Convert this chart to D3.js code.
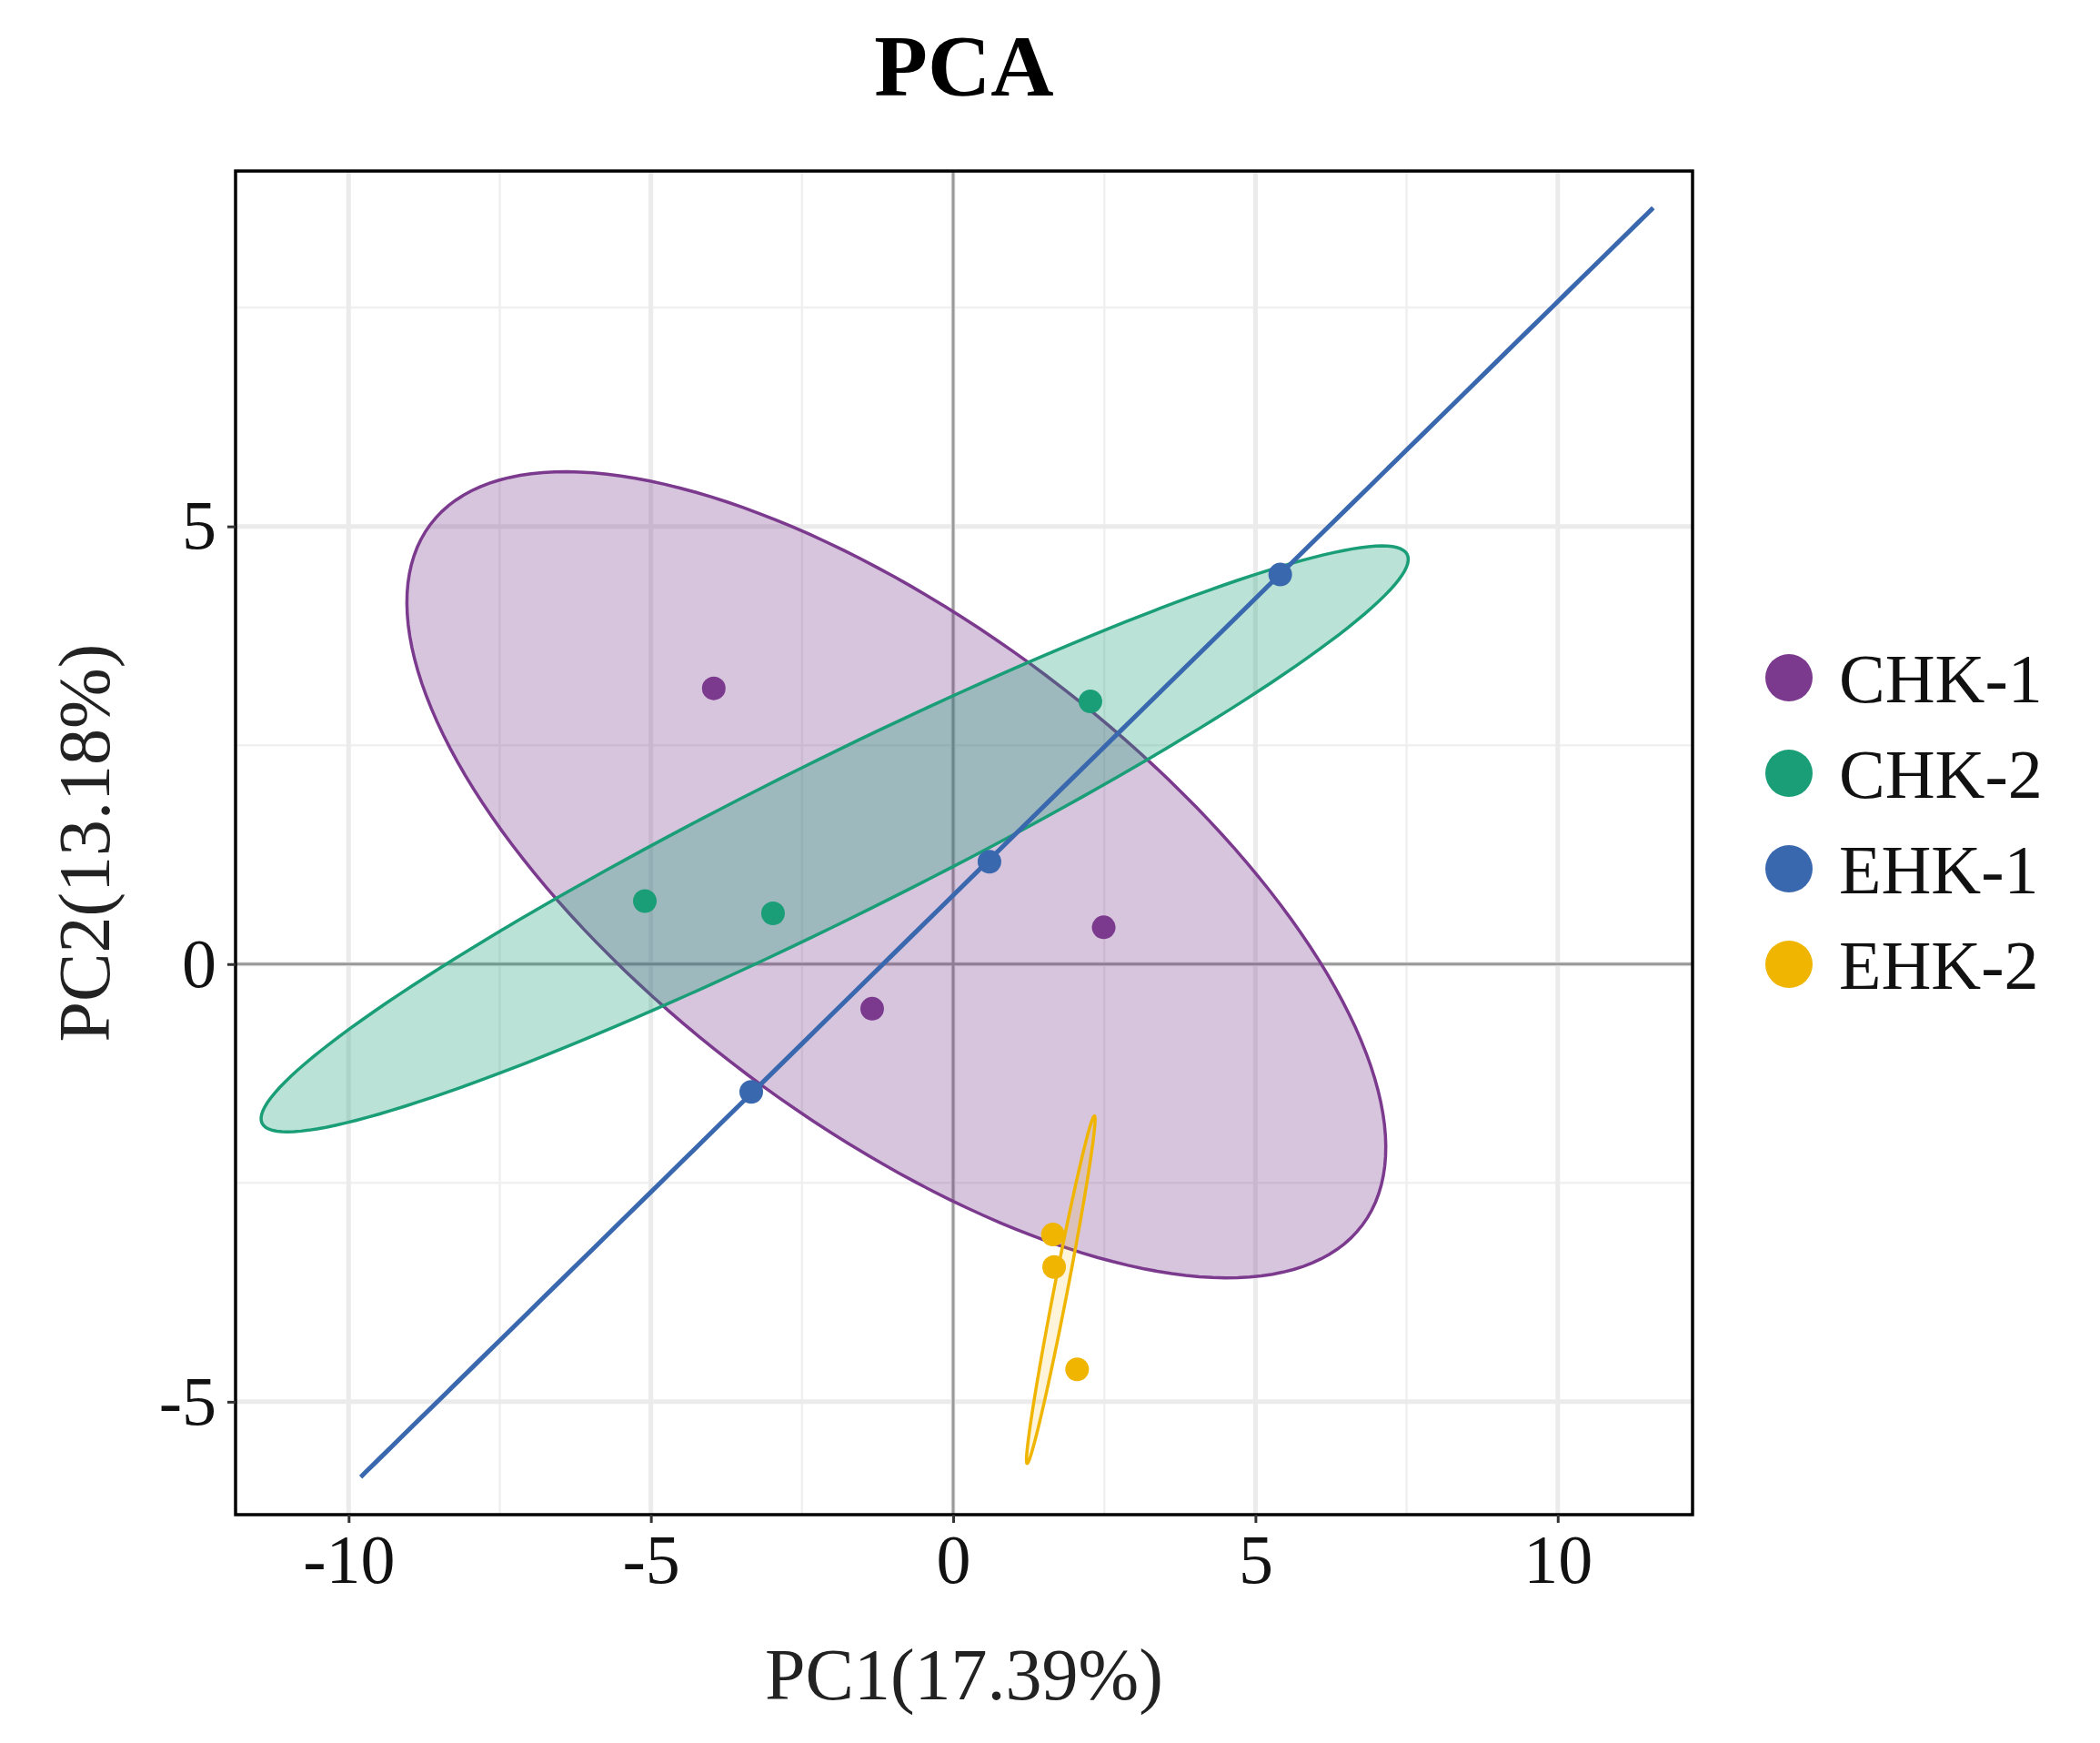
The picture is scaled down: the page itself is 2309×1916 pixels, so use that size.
<!DOCTYPE html>
<html><head><meta charset="utf-8">
<script src="https://cdn.jsdelivr.net/npm/d3@7"></script>
<style>body{margin:0;background:#fff}</style>
</head><body><div id="chart"></div>
<script>
// groups and colours
var groups = ["CHK-1", "CHK-2", "EHK-1", "EHK-2"];
var colors = ["#7B3A8E", "#1A9E77", "#3A68AE", "#EFB500"];

// sample scores (PC1, PC2) per group
var pc1 = [[-3.96, 2.49, -1.34], [-5.10, -2.98, 2.27], [-3.34, 0.60, 5.41], [1.65, 1.67, 2.05]];
var pc2 = [[3.15, 0.42, -0.51], [0.72, 0.58, 3.00], [-1.46, 1.17, 4.45], [-3.09, -3.46, -4.63]];

// ellipse: centre, half axis u, half axis v (data units)
var ellCenter = [[-0.94, 1.02], [-1.96, 1.43], [0.89, 1.39], [1.78, -3.72]];
var ellU = [[-7.71, 4.0], [9.47, 3.25], [10.69, 7.25], [0.557, 1.985]];
var ellV = [[2.47, 2.28], [0.58, -0.80], [0, 0], [0.109, -0.015]];
var ellFill = [0.3, 0.3, 0.3, 0.15];

var xTicks = [-10, -5, 0, 5, 10];
var yTicks = [-5, 0, 5];
var xMinor = [-7.5, -2.5, 2.5, 7.5];
var yMinor = [-2.5, 2.5, 7.5];

var W = 2309, H = 1916;
var pLeft = 259, pRight = 1861, pTop = 188, pBottom = 1665;

var svg = d3.select("#chart").append("svg").attr("width", W).attr("height", H);
var font = "'Liberation Serif', 'DejaVu Serif', serif";

var x = d3.scaleLinear().domain([-11.87, 12.23]).range([pLeft, pRight]);
var y = d3.scaleLinear().domain([-6.29, 9.06]).range([pBottom, pTop]);

svg.append("rect").attr("x", pLeft).attr("y", pTop).attr("width", pRight - pLeft).attr("height", pBottom - pTop).attr("fill", "#fff");

// grid
var g = svg.append("g");
g.selectAll(".xm").data(xMinor).enter().append("line")
  .attr("x1", x).attr("x2", x).attr("y1", pTop).attr("y2", pBottom).attr("stroke", "#f0f0f0").attr("stroke-width", 2.5);
g.selectAll(".ym").data(yMinor).enter().append("line")
  .attr("y1", y).attr("y2", y).attr("x1", pLeft).attr("x2", pRight).attr("stroke", "#f0f0f0").attr("stroke-width", 2.5);
g.selectAll(".xM").data(xTicks).enter().append("line")
  .attr("x1", x).attr("x2", x).attr("y1", pTop).attr("y2", pBottom).attr("stroke", "#ebebeb").attr("stroke-width", 5);
g.selectAll(".yM").data(yTicks).enter().append("line")
  .attr("y1", y).attr("y2", y).attr("x1", pLeft).attr("x2", pRight).attr("stroke", "#ebebeb").attr("stroke-width", 5);

// zero lines
svg.append("line").attr("x1", x(0)).attr("x2", x(0)).attr("y1", pTop).attr("y2", pBottom).attr("stroke", "#999").attr("stroke-width", 3);
svg.append("line").attr("y1", y(0)).attr("y2", y(0)).attr("x1", pLeft).attr("x2", pRight).attr("stroke", "#999").attr("stroke-width", 3);

// ellipses
var line = d3.line().x(function(d){ return x(d[0]); }).y(function(d){ return y(d[1]); });
groups.forEach(function(name, i) {
  var pts = d3.range(0, 361, 2).map(function(a) {
    var t = a * Math.PI / 180;
    return [ellCenter[i][0] + ellU[i][0] * Math.cos(t) + ellV[i][0] * Math.sin(t),
            ellCenter[i][1] + ellU[i][1] * Math.cos(t) + ellV[i][1] * Math.sin(t)];
  });
  svg.append("path").attr("d", line(pts) + "Z")
    .attr("fill", colors[i]).attr("fill-opacity", ellFill[i])
    .attr("stroke", colors[i]).attr("stroke-width", i == 2 ? 5 : 3.5);
});

// points
groups.forEach(function(name, i) {
  svg.selectAll(".p" + i).data(pc1[i]).enter().append("circle")
    .attr("cx", function(d){ return x(d); })
    .attr("cy", function(d, j){ return y(pc2[i][j]); })
    .attr("r", 13).attr("fill", colors[i]);
});

// border
svg.append("rect").attr("x", pLeft).attr("y", pTop).attr("width", pRight - pLeft).attr("height", pBottom - pTop)
  .attr("fill", "none").attr("stroke", "#000").attr("stroke-width", 3.5);

// axes
var fmt = function(d){ return String(d); };
var xa = svg.append("g").attr("transform", "translate(0," + pBottom + ")")
  .call(d3.axisBottom(x).tickValues(xTicks).tickFormat(fmt).tickSize(9).tickPadding(12));
var ya = svg.append("g").attr("transform", "translate(" + pLeft + ",0)")
  .call(d3.axisLeft(y).tickValues(yTicks).tickFormat(fmt).tickSize(9).tickPadding(12));
[xa, ya].forEach(function(a) {
  a.select(".domain").remove();
  a.selectAll(".tick line").attr("stroke", "#333").attr("stroke-width", 3);
  a.selectAll("text").attr("font-family", font).attr("font-size", 76).attr("fill", "#111");
});

svg.append("text").attr("x", (pLeft + pRight) / 2).attr("y", 1868).attr("text-anchor", "middle")
  .attr("font-family", font).attr("font-size", 80).attr("fill", "#222").text("PC1(17.39%)");
svg.append("text").attr("transform", "translate(120," + ((pTop + pBottom) / 2) + ") rotate(-90)")
  .attr("text-anchor", "middle").attr("font-family", font).attr("font-size", 80).attr("fill", "#222").text("PC2(13.18%)");
svg.append("text").attr("x", (pLeft + pRight) / 2).attr("y", 105).attr("text-anchor", "middle")
  .attr("font-family", font).attr("font-size", 96).attr("font-weight", "bold").text("PCA");

// legend
var lg = svg.append("g");
groups.forEach(function(name, i) {
  var cy = 745 + i * 105;
  lg.append("circle").attr("cx", 1967).attr("cy", cy).attr("r", 26).attr("fill", colors[i]);
  lg.append("text").attr("x", 2022).attr("y", cy + 27).attr("font-family", font).attr("font-size", 76)
    .attr("fill", "#111").text(name);
});
</script></body></html>
